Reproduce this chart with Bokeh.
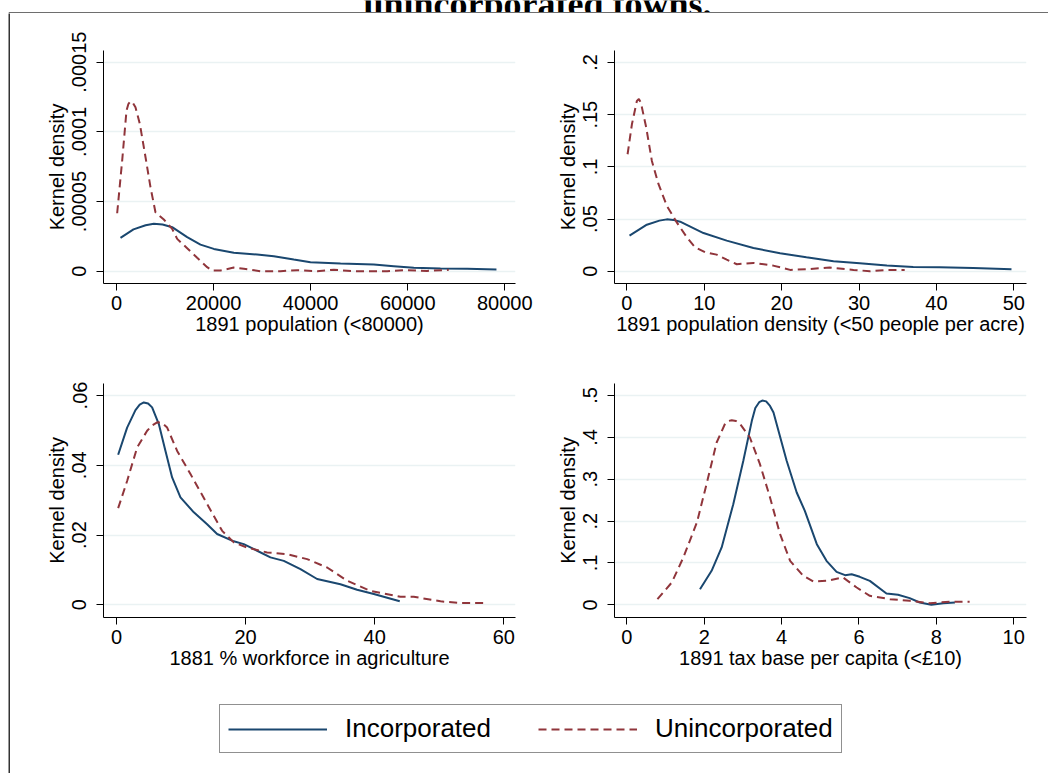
from bokeh.plotting import figure
from bokeh.models import FixedTicker, Legend, LegendItem, Range1d, Label, Span
from bokeh.layouts import column, row
from bokeh.embed import file_html
from bokeh.resources import INLINE

FONT = "Liberation Sans"
NAVY = "#1a476f"
MAROON = "#90353b"
GRID = "#eaf2f3"
NAN = float("nan")

# ---- Panel 1: 1891 population (<80000)
pop_x_inc = [824, 3500, 6000, 7690, 9500, 11470, 14560, 17300, 20050, 24170, 28970, 32410, 36530,
             39960, 46150, 53010, 57130, 61250, 66750, 72240, 78280]
pop_y_inc = [2.39e-5, 3.0e-5, 3.3e-5, 3.40e-5, 3.35e-5, 3.16e-5, 2.44e-5, 1.91e-5, 1.60e-5, 1.32e-5,
             1.20e-5, 1.08e-5, 8.4e-6, 6.5e-6, 5.5e-6, 4.8e-6, 3.6e-6, 2.4e-6, 1.9e-6, 1.7e-6, 1.2e-6]
pop_x_un = [137, 1170, 2060, 2450, 2880, 3350, 3910, 4810, 5980, 7000, 8030, 9750, 11470, 12500,
            14560, 16620, 18680, 19710, 21420, 24170, 26230, 29660, 33780, 37220, 41340, 44770,
            48890, 55760, 59190, 64000, 68460]
pop_y_un = [4.16e-5, 7.94e-5, 1.153e-4, 1.20e-4, 1.22e-4, 1.21e-4, 1.177e-4, 1.057e-4, 8.18e-5,
            6.03e-5, 4.23e-5, 3.71e-5, 3.04e-5, 2.32e-5, 1.65e-5, 9.6e-6, 2.9e-6, 5e-7, 5e-7,
            2.6e-6, 1.7e-6, 0.0, 0.0, 7e-7, 0.0, 1.0e-6, 0.0, 0.0, 7e-7, 2e-7, 1.0e-6]

# ---- Panel 2: 1891 population density (<50 people per acre)
dens_x_inc = [0.34, 2.58, 4.2, 5.16, 6.0, 6.88, 9.9, 12.9, 16.35, 19.8, 23.2, 26.7, 30.1, 33.6,
              37.0, 40.4, 44.75, 49.7]
dens_y_inc = [0.0341, 0.0446, 0.0485, 0.0497, 0.0492, 0.0475, 0.0366, 0.0293, 0.0223, 0.0172,
              0.0134, 0.0096, 0.0076, 0.0054, 0.0041, 0.0038, 0.0032, 0.0019]
dens_x_un = [0.09, 0.65, 1.29, 1.55, 1.81, 2.5, 3.23, 4.09, 5.16, 6.45, 7.75, 8.82, 10.1, 11.6,
             12.9, 14.2, 16.35, 18.9, 21.1, 23.2, 26.2, 29.3, 31.4, 33.6, 35.9]
dens_y_un = [0.1121, 0.1408, 0.1631, 0.165, 0.1615, 0.1376, 0.1057, 0.0834, 0.0627, 0.0468,
             0.0325, 0.0229, 0.0182, 0.0159, 0.0111, 0.0067, 0.008, 0.0054, 0.0013, 0.0019,
             0.0035, 0.0013, 0.0, 0.0013, 0.0013]

# ---- Panel 3: 1881 % workforce in agriculture
agr_x_inc = [0.26, 1.65, 2.94, 3.6, 4.23, 4.9, 5.52, 6.56, 7.59, 8.62, 9.91, 11.98, 14.04, 15.59,
             18.17, 19.72, 21.79, 23.85, 25.92, 28.5, 31.08, 34.69, 37.27, 39.86, 43.88]
agr_y_inc = [0.0430, 0.0508, 0.0558, 0.0574, 0.0580, 0.0577, 0.0566, 0.0518, 0.0441, 0.0365,
             0.0308, 0.0265, 0.0231, 0.0203, 0.0182, 0.0174, 0.0155, 0.0136, 0.0126, 0.0102,
             0.0074, 0.0059, 0.0043, 0.0031, 0.0010]
agr_x_un = [0.26, 1.65, 3.2, 4.75, 5.6, 6.3, 7.0, 7.85, 9.4, 11.46, 14.04, 16.37, 18.17, 20.24,
            23.33, 26.43, 29.53, 32.63, 35.72, 39.34, 43.99, 46.05, 50.2, 53.3, 57.2]
agr_y_un = [0.0277, 0.0355, 0.0451, 0.0499, 0.0515, 0.0523, 0.0522, 0.0508, 0.0441, 0.0375,
            0.0289, 0.0212, 0.0179, 0.0164, 0.0150, 0.0145, 0.0131, 0.0107, 0.0069, 0.0040,
            0.0023, 0.0023, 0.0010, 0.0005, 0.0005]

# ---- Panel 4: 1891 tax base per capita (<£10)
tax_x_inc = [1.89, 2.19, 2.45, 2.75, 3.01, 3.23, 3.32, 3.42, 3.5, 3.6, 3.7, 3.79, 3.95, 4.13,
             4.39, 4.6, 4.91, 5.16, 5.42, 5.64, 5.81, 6.02, 6.28, 6.71, 7.01, 7.31, 7.57, 7.87,
             8.18, 8.48]
tax_y_inc = [0.0374, 0.0812, 0.137, 0.2404, 0.344, 0.4395, 0.470, 0.484, 0.488, 0.486, 0.475,
             0.4594, 0.405, 0.344, 0.2683, 0.2245, 0.1449, 0.1051, 0.0788, 0.0709, 0.0732,
             0.0669, 0.0573, 0.0271, 0.0239, 0.0159, 0.0056, 0.0, 0.004, 0.0056]
tax_x_un = [0.79, 1.16, 1.46, 1.81, 2.07, 2.32, 2.54, 2.62, 2.71, 2.82, 2.93, 3.18, 3.44, 3.7,
            3.96, 4.22, 4.56, 4.82, 5.16, 5.59, 5.94, 6.28, 6.8, 7.31, 7.83, 8.35, 8.86]
tax_y_un = [0.0135, 0.0533, 0.1131, 0.1967, 0.2922, 0.3877, 0.4331, 0.439, 0.4411, 0.439, 0.4315,
            0.3997, 0.336, 0.2564, 0.1688, 0.1051, 0.0693, 0.0557, 0.0573, 0.0653, 0.0414,
            0.0215, 0.0135, 0.0096, 0.004, 0.0072, 0.0072]

# ---- ticks / labels
pop_xticks = [0, 20000, 40000, 60000, 80000]
pop_xlabels = ["0", "20000", "40000", "60000", "80000"]
pop_yticks = [0, 0.00005, 0.0001, 0.00015]
pop_ylabels = ["0", ".00005", ".0001", ".00015"]
dens_xticks = [0, 10, 20, 30, 40, 50]
dens_xlabels = ["0", "10", "20", "30", "40", "50"]
dens_yticks = [0, 0.05, 0.1, 0.15, 0.2]
dens_ylabels = ["0", ".05", ".1", ".15", ".2"]
agr_xticks = [0, 20, 40, 60]
agr_xlabels = ["0", "20", "40", "60"]
agr_yticks = [0, 0.02, 0.04, 0.06]
agr_ylabels = ["0", ".02", ".04", ".06"]
tax_xticks = [0, 2, 4, 6, 8, 10]
tax_xlabels = ["0", "2", "4", "6", "8", "10"]
tax_yticks = [0, 0.1, 0.2, 0.3, 0.4, 0.5]
tax_ylabels = ["0", ".1", ".2", ".3", ".4", ".5"]

x_titles = ["1891 population (<80000)", "1891 population density (<50 people per acre)",
            "1881 % workforce in agriculture", "1891 tax base per capita (<£10)"]
y_title = "Kernel density"
series_names = ["Incorporated", "Unincorporated"]
title_text = "unincorporated towns."


def bare(p):
    p.axis.visible = False
    p.grid.visible = False
    p.outline_line_color = None
    return p


def make_panel(xi, yi, xu, yu, xr, yr, xt, xl, yt, yl, xtitle, bl, br, bt, bb, fh):
    p = figure(frame_width=412, frame_height=fh, x_range=Range1d(*xr), y_range=Range1d(*yr),
               toolbar_location=None, output_backend="svg",
               min_border_left=bl, min_border_right=br, min_border_top=bt, min_border_bottom=bb)
    p.outline_line_color = None
    p.background_fill_color = "white"
    p.border_fill_color = "white"
    p.xgrid.visible = False
    p.ygrid.grid_line_color = GRID
    p.ygrid.grid_line_width = 1.5
    p.xaxis.ticker = FixedTicker(ticks=xt)
    p.yaxis.ticker = FixedTicker(ticks=yt)
    p.xaxis.major_label_overrides = {float(k): v for k, v in zip(xt, xl)}
    p.yaxis.major_label_overrides = {float(k): v for k, v in zip(yt, yl)}
    p.yaxis.major_label_orientation = "vertical"
    for ax in (p.xaxis[0], p.yaxis[0]):
        ax.axis_line_color = "black"
        ax.axis_line_width = 1
        ax.major_tick_line_color = "black"
        ax.major_tick_out = 7
        ax.major_tick_in = 0
        ax.minor_tick_line_color = None
        ax.major_label_text_font = FONT
        ax.major_label_text_font_size = "20px"
        ax.major_label_text_color = "black"
        ax.axis_label_text_font = FONT
        ax.axis_label_text_font_size = "20px"
        ax.axis_label_text_font_style = "normal"
        ax.axis_label_text_color = "black"
    p.xaxis.axis_label = xtitle
    p.yaxis.axis_label = y_title
    p.xaxis.major_label_standoff = 5
    p.xaxis.axis_label_standoff = 0
    p.yaxis.major_label_standoff = 10
    p.yaxis.axis_label_standoff = 2
    p.line(xi, yi, line_color=NAVY, line_width=2)
    p.line(xu, yu, line_color=MAROON, line_width=2, line_dash="8 5")
    return p


p1 = make_panel(pop_x_inc, pop_y_inc, pop_x_un, pop_y_un, (-2678, 82204), (-8.83e-6, 1.584e-4),
                pop_xticks, pop_xlabels, pop_yticks, pop_ylabels, x_titles[0], 93, 25, 37, 62, 233)
p2 = make_panel(dens_x_inc, dens_y_inc, dens_x_un, dens_y_un, (-1.60, 51.64), (-0.01175, 0.2115),
                dens_xticks, dens_xlabels, dens_yticks, dens_ylabels, x_titles[1], 74, 14, 37, 62, 233)
p3 = make_panel(agr_x_inc, agr_y_inc, agr_x_un, agr_y_un, (-2.01, 61.81), (-0.00364, 0.06344),
                agr_xticks, agr_xlabels, agr_yticks, agr_ylabels, x_titles[2], 93, 25, 38, 60, 234)
p4 = make_panel(tax_x_inc, tax_y_inc, tax_x_un, tax_y_un, (-0.32, 10.33), (-0.0303, 0.5287),
                tax_xticks, tax_xlabels, tax_yticks, tax_ylabels, x_titles[3], 74, 14, 38, 60, 234)

# ---- legend strip
lf = bare(figure(width=1030, height=80, toolbar_location=None, output_backend="svg", min_border=0,
                 x_range=Range1d(0, 1), y_range=Range1d(0, 1)))
r_inc = lf.line(x=[NAN], y=[NAN], line_color=NAVY, line_width=2)
r_un = lf.line(x=[NAN], y=[NAN], line_color=MAROON, line_width=2, line_dash="8 5")
legend = Legend(items=[LegendItem(label=series_names[0], renderers=[r_inc]),
                       LegendItem(label=series_names[1], renderers=[r_un])],
                orientation="horizontal", location=(209, 4),
                glyph_width=99, glyph_height=26, label_standoff=18, spacing=47,
                padding=8, margin=0,
                label_text_font=FONT, label_text_font_size="26px", label_text_color="black",
                border_line_color="#222222", border_line_width=1.5,
                background_fill_color="white", background_fill_alpha=1.0)
lf.add_layout(legend)

# ---- cropped graph-region header: title remnant and top border line
strip = bare(figure(width=1048, height=13, toolbar_location=None, output_backend="svg",
                    min_border=0, min_border_left=8,
                    x_range=Range1d(0, 1040), y_range=Range1d(13, 0)))
strip.add_layout(Label(x=355, y=3.5, text=title_text, text_font="Liberation Serif",
                       text_font_size="36px", text_font_style="bold", text_color="black",
                       text_baseline="alphabetic", text_align="left"))
strip.add_layout(Span(location=12, dimension="width", line_color="#6e6e6e", line_width=1))

# ---- left border of the graph region (frame is the dark 2px bar at x = 8..10)
left_bar = bare(figure(width=10, height=760, toolbar_location=None, output_backend="svg",
                       min_border=0, min_border_left=8,
                       background_fill_color="#333333", border_fill_color="white"))

body = column(row(p1, p2), row(p3, p4), lf)
layout = column(strip, row(left_bar, body))

open("out.html", "w").write(file_html(layout, INLINE))
